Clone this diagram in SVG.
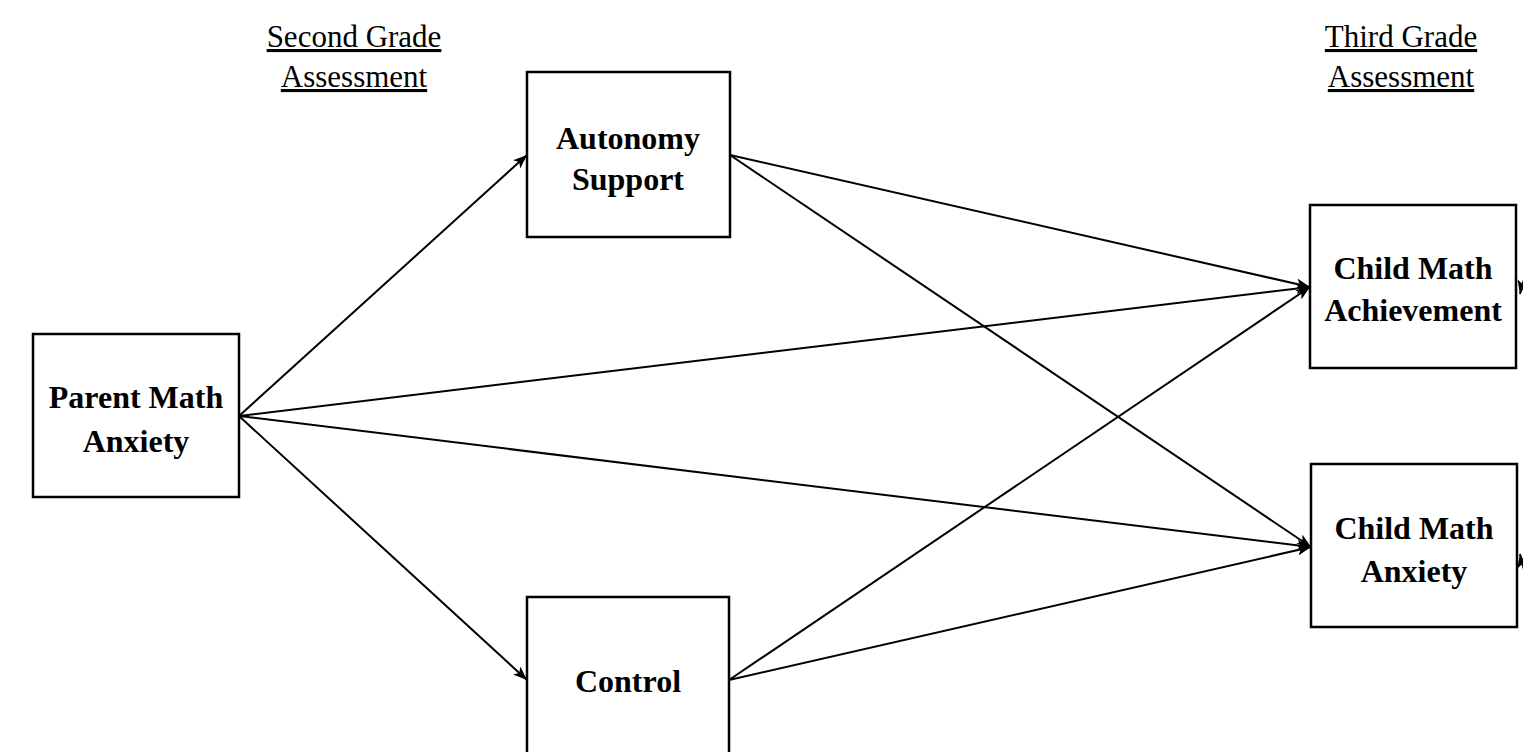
<svg xmlns="http://www.w3.org/2000/svg" width="1523" height="752" viewBox="0 0 1523 752">
<style>
.box{fill:#fff;stroke:#000;stroke-width:2.5}
.lbl{font-family:"Liberation Serif","Times New Roman",serif;font-weight:bold;font-size:32px;text-anchor:middle;fill:#000}
.hdr{font-family:"Liberation Serif","Times New Roman",serif;font-size:31px;text-anchor:middle;fill:#000;text-decoration:underline}
.edge{stroke:#000;stroke-width:2;fill:none;marker-end:url(#ah)}
</style>
<defs>
<marker id="ah" viewBox="0 0 14 11" refX="14" refY="5.5" markerWidth="14" markerHeight="11" markerUnits="userSpaceOnUse" orient="auto">
<path d="M0,0 L14,5.5 L0,11 L3.5,5.5 Z" fill="#000"/>
</marker>
</defs>
<rect width="1523" height="752" fill="#fff"/>
<g id="headers">
<text class="hdr" x="354" y="47">Second Grade</text>
<text class="hdr" x="354" y="87">Assessment</text>
<text class="hdr" x="1401" y="47">Third Grade</text>
<text class="hdr" x="1401" y="87">Assessment</text>
</g>
<g id="connectors">
<line class="edge" x1="239" y1="416" x2="527" y2="155"/>
<line class="edge" x1="239" y1="416" x2="527" y2="680"/>
<line class="edge" x1="239" y1="416" x2="1310" y2="287"/>
<line class="edge" x1="239" y1="416" x2="1311" y2="547"/>
<line class="edge" x1="730" y1="155" x2="1310" y2="287"/>
<line class="edge" x1="730" y1="155" x2="1311" y2="547"/>
<line class="edge" x1="729" y1="680" x2="1310" y2="287"/>
<line class="edge" x1="729" y1="680" x2="1311" y2="547"/>
<path class="edge" d="M1540,250 Q1525,270 1520,294"/>
<path class="edge" d="M1540,600 Q1525,580 1520,554"/>
</g>
<g id="parent-math-anxiety">
<rect class="box" x="33" y="334" width="206" height="163"/>
<text class="lbl" x="136" y="408">Parent Math</text>
<text class="lbl" x="136" y="452">Anxiety</text>
</g>
<g id="autonomy-support">
<rect class="box" x="527" y="72" width="203" height="165"/>
<text class="lbl" x="628" y="149">Autonomy</text>
<text class="lbl" x="628" y="190">Support</text>
</g>
<g id="control">
<rect class="box" x="527" y="597" width="202" height="170"/>
<text class="lbl" x="628" y="692">Control</text>
</g>
<g id="child-math-achievement">
<rect class="box" x="1310" y="205" width="206" height="163"/>
<text class="lbl" x="1413" y="279">Child Math</text>
<text class="lbl" x="1413" y="321">Achievement</text>
</g>
<g id="child-math-anxiety">
<rect class="box" x="1311" y="464" width="206" height="163"/>
<text class="lbl" x="1414" y="539">Child Math</text>
<text class="lbl" x="1414" y="582">Anxiety</text>
</g>
</svg>
